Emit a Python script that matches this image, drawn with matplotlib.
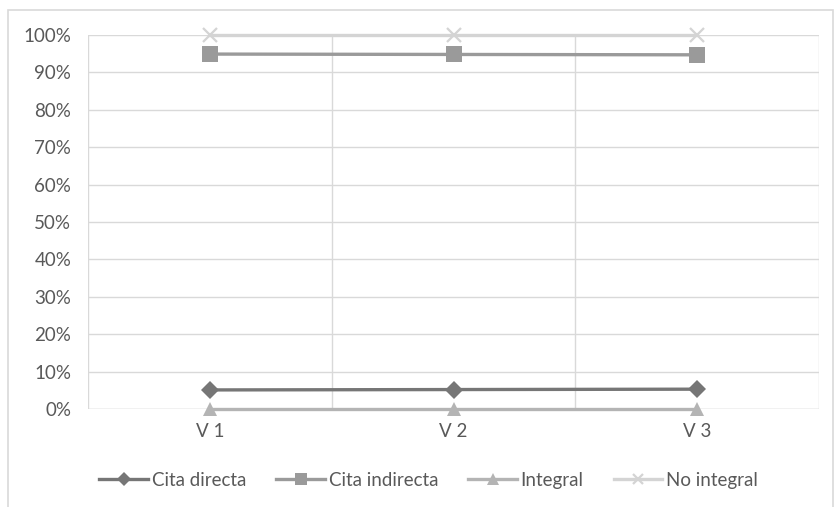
import matplotlib
matplotlib.use("Agg")
import matplotlib.pyplot as plt
from matplotlib.patches import Rectangle
from matplotlib.ticker import PercentFormatter

plt.rcParams["font.family"] = ["Lato", "Liberation Sans", "DejaVu Sans"]

categories = ["V 1", "V 2", "V 3"]
cita_directa = [5.1, 5.2, 5.3]
cita_indirecta = [94.9, 94.8, 94.7]
integral = [0.0, 0.0, 0.0]
no_integral = [100.0, 100.0, 100.0]

series = [
    ("Cita directa", cita_directa, "#767676", "D", 9.5),
    ("Cita indirecta", cita_indirecta, "#9a9a9a", "s", 11.5),
    ("Integral", integral, "#b4b4b4", "^", 10.5),
    ("No integral", no_integral, "#d4d4d4", "x", 9.5),
]

fig = plt.figure(figsize=(8.36, 5.07), dpi=100)
fig.patches.append(Rectangle((8 / 836, -0.05), 825 / 836, 1 - 10 / 507 + 0.05,
                             transform=fig.transFigure, fill=False,
                             edgecolor="#d9d9d9", lw=1.2))
ax = fig.add_axes([88 / 836, 1 - 409 / 507, 731 / 836, 374 / 507])

x = range(len(categories))
for name, vals, col, mk, ms in series:
    ax.plot(x, vals, color=col, lw=2.4, marker=mk, ms=ms,
            mew=1.6 if mk == "x" else 0, mec=col, mfc=col, label=name,
            clip_on=False, zorder=3)

ax.set_xlim(-0.5, 2.5)
ax.set_ylim(0, 100)
ax.set_yticks(range(0, 101, 10))
ax.yaxis.set_major_formatter(PercentFormatter(decimals=0))
ax.set_xticks(list(x))
ax.set_xticklabels(categories)
ax.set_xticks([-0.5, 0.5, 1.5, 2.5], minor=True)

ax.grid(True, axis="y", color="#d9d9d9", lw=1)
ax.grid(True, axis="x", which="minor", color="#d9d9d9", lw=1)
ax.set_axisbelow(True)
for s in ax.spines.values():
    s.set_visible(False)
ax.axhline(0, color="#d9d9d9", lw=1, zorder=1)
ax.tick_params(axis="y", which="both", length=0, labelsize=13.5, colors="#595959", pad=12)
ax.tick_params(axis="x", which="both", length=0, labelsize=13.5, colors="#595959", pad=10)

ax.legend(loc="center", bbox_to_anchor=(0.466, -0.19), ncol=4, frameon=False,
          fontsize=13.5, handlelength=2.6, columnspacing=1.6, handletextpad=0.2,
          markerscale=0.8, labelcolor="#595959")

fig.savefig("out.png", dpi=100)
